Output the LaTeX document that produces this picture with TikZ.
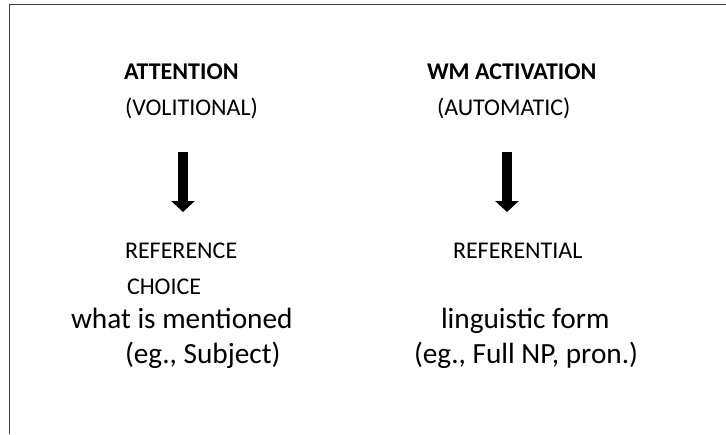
\documentclass[tikz,border=0pt]{standalone}
\usepackage{fontspec}
\setmainfont{Carlito}
\usetikzlibrary{arrows.meta}
\begin{document}
\begin{tikzpicture}[x=1pt,y=-1pt,
  label/.style={anchor=base west,inner sep=0pt,outer sep=0pt},
  head/.style={label,font=\fontsize{24}{28}\selectfont\bfseries},
  caps/.style={label,font=\fontsize{24}{28}\selectfont},
  gloss/.style={label,font=\fontsize{29.3}{34}\selectfont},
  bigarrow/.style={line width=10pt,-{Triangle[width=23pt,length=11pt]}}]
  \useasboundingbox (0,0) rectangle (726,434);
  % frame: only the top and left edges are drawn
  \draw[line width=1.4pt,color=black!75] (9.5,434) -- (9.5,4.5) -- (726,4.5);

  % left column
  \node[head] (att) at (124,79) {ATTENTION};
  \node[caps] (vol) at (125,115) {(VOLITIONAL)};
  \node[caps] (ref) at (125,258) {REFERENCE};
  \node[caps] (cho) at (127,294) {CHOICE};
  \node[gloss] (what) at (71,328) {what is mentioned};
  \node[gloss] (subj) at (125,363) {(eg., Subject)};

  % right column
  \node[head] (wm) at (427,79) {WM ACTIVATION};
  \node[caps] (auto) at (437,115) {(AUTOMATIC)};
  \node[caps] (refl) at (453,258) {REFERENTIAL};
  \node[gloss] (ling) at (441,328) {linguistic form};
  \node[gloss] (np) at (414,363) {(eg., Full NP, pron.)};

  % downward arrows
  \coordinate (a1s) at (183,152);
  \coordinate (a1e) at (183,212);
  \coordinate (a2s) at (507,152);
  \coordinate (a2e) at (507,212);
  \draw[bigarrow] (a1s) -- (a1e);
  \draw[bigarrow] (a2s) -- (a2e);
\end{tikzpicture}
\end{document}
